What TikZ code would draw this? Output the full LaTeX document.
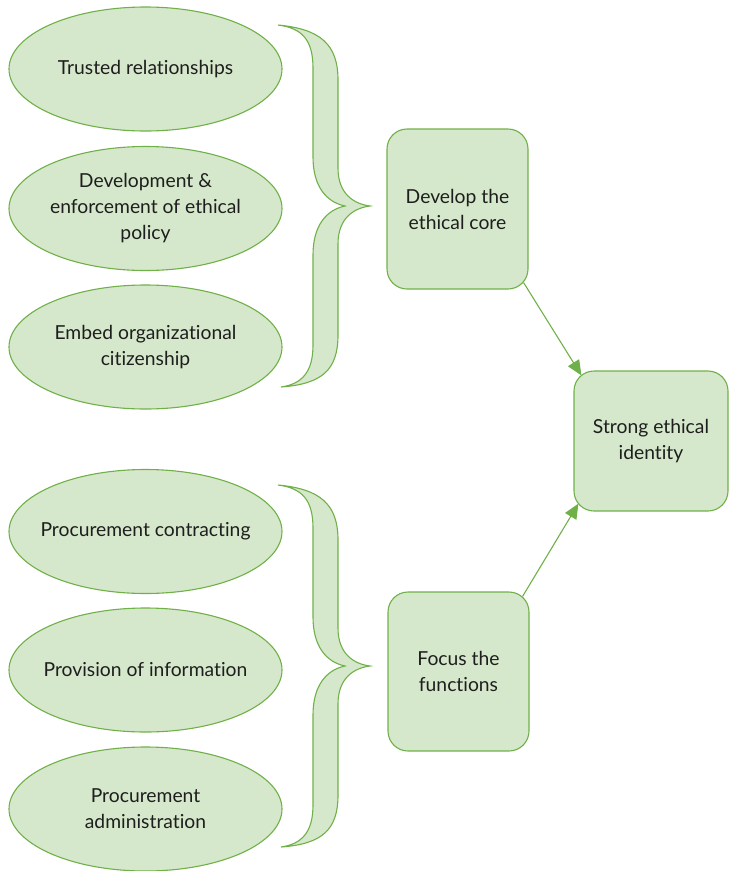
\documentclass[tikz,border=0pt]{standalone}
\usepackage{fontspec}
\setmainfont[Ligatures=NoCommon]{Lato}
\usetikzlibrary{shapes.geometric,arrows.meta,calc}
\definecolor{gfill}{RGB}{214,232,203}
\definecolor{gline}{RGB}{112,176,72}
\definecolor{gtext}{RGB}{30,30,30}
\tikzset{
  oval/.style={ellipse,draw=gline,fill=gfill,line width=1.1pt,minimum width=273pt,minimum height=124pt,inner xsep=-35pt,inner ysep=0pt,align=center,text=gtext,font=\fontsize{19.3}{26}\selectfont},
  rbox/.style={rectangle,rounded corners=20pt,draw=gline,fill=gfill,line width=1.1pt,inner sep=0pt,align=center,text=gtext,font=\fontsize{19.3}{26}\selectfont},
  conn/.style={draw=gline,line width=1.1pt,-{Triangle[length=15pt,width=13pt]}},
  bigbrace/.pic={
    \path[draw=gline,fill=gfill,line width=1.1pt]
      (278,25) .. controls (320,29) and (338,44) .. (338,80)
      -- (338,168) .. controls (338,194) and (354,204) .. (370,206)
      .. controls (354,208) and (338,218) .. (338,244)
      -- (338,335) .. controls (338,370) and (322,384) .. (281,387)
      .. controls (302,384) and (313,372) .. (313,345)
      -- (313,255) .. controls (313,226) and (326,210) .. (345,206)
      .. controls (326,202) and (313,186) .. (313,157)
      -- (313,68) .. controls (313,40) and (302,28) .. (278,25) -- cycle;
  }
}
\begin{document}
\begin{tikzpicture}[x=1pt,y=-1pt]
\useasboundingbox (0,0) rectangle (729,871);
% top group
\node[oval] (e1) at (145.5,69) {Trusted relationships};
\node[oval] (e2) at (145.5,208.5) {Development \&\\enforcement of ethical\\policy};
\node[oval] (e3) at (145.5,347) {Embed organizational\\citizenship};
\pic (b1) at (0,0) {bigbrace};
\node[rbox,minimum width=141pt,minimum height=160pt] (dev) at (457.5,209) {Develop the\\ethical core};
% bottom group
\node[oval] (e4) at (145.5,531.5) {Procurement contracting};
\node[oval] (e5) at (145.5,670) {Provision of information};
\node[oval] (e6) at (145.5,809) {Procurement\\administration};
\pic (b2) at (0,460) {bigbrace};
\node[rbox,minimum width=141pt,minimum height=159pt] (focus) at (458.5,671.5) {Focus the\\functions};
% right
\node[rbox,minimum width=154pt,minimum height=140pt] (strong) at (651,441) {Strong ethical\\identity};
% connectors
\draw[conn] ($(dev.south east)+(-5,-7)$) -- ($(strong.north west)+(8,5)$);
\draw[conn] ($(focus.north east)+(-7,5)$) -- ($(strong.south west)+(5,-8)$);
\end{tikzpicture}
\end{document}
